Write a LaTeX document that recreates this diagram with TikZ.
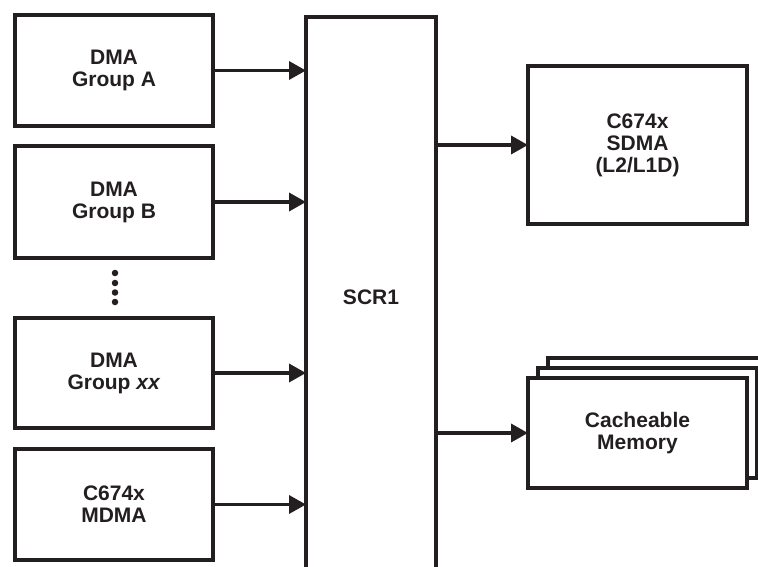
\documentclass[tikz,border=0pt]{standalone}
\usepackage{fontspec}
\setmainfont{Liberation Sans}
\usetikzlibrary{arrows.meta}
\definecolor{ink}{HTML}{231F20}
\begin{document}
\begin{tikzpicture}[x=1pt,y=-1pt,
  blk/.style={draw=ink,line width=4pt,fill=white,rectangle,inner sep=0pt,outer sep=0pt,
    minimum width=198pt,minimum height=111pt,align=center,text=ink,
    font=\fontsize{21}{22}\selectfont\bfseries},
  rblk/.style={blk,minimum width=219pt},
  conn/.style={draw=ink,line width=3.5pt,-{Triangle[length=17pt,width=18pt]}},
  dot/.style={circle,fill=ink,inner sep=0pt,minimum size=6.5pt}]
\useasboundingbox (0,0) rectangle (758,567);
\begin{scope}
\clip (0,0) rectangle (758,567);
% SCR1 column, open at the bottom
\draw[ink,line width=4pt] (306,600) -- (306,17) -- (436,17) -- (436,600);
\node[text=ink,font=\fontsize{21}{22}\selectfont\bfseries] (scr) at (371,297) {SCR1};
\coordinate (scrw) at (306,297);
\coordinate (scre) at (436,297);
% left blocks
\node[blk] (a) at (114,70.5) {DMA\\Group A};
\node[blk,minimum height=112pt] (b) at (114,202) {DMA\\Group B};
\node[blk,minimum height=110pt] (xx) at (114,373) {DMA\\Group \textit{xx}};
\node[blk] (m) at (114,504.5) {C674x\\MDMA};
\node[dot] (d1) at (115,273) {};
\node[dot] (d2) at (115,283) {};
\node[dot] (d3) at (115,292.5) {};
\node[dot] (d4) at (115,302) {};
% right blocks
\node[rblk,minimum height=158pt] (sdma) at (637.5,145) {C674x\\SDMA\\(L2/L1D)};
\node[rblk,minimum height=110pt] (mem3) at (657.5,413) {};
\node[rblk,minimum height=110pt] (mem2) at (647.5,423) {};
\node[rblk,minimum height=110pt] (mem) at (637.5,433) {Cacheable\\Memory};
% connectors
\draw[conn] (a.east) -- (scrw |- a.east);
\draw[conn] (b.east) -- (scrw |- b.east);
\draw[conn] (xx.east) -- (scrw |- xx.east);
\draw[conn] (m.east) -- (scrw |- m.east);
\draw[conn] (scre |- sdma.west) -- (sdma.west);
\draw[conn] (scre |- mem.west) -- (mem.west);
\end{scope}
\end{tikzpicture}
\end{document}
